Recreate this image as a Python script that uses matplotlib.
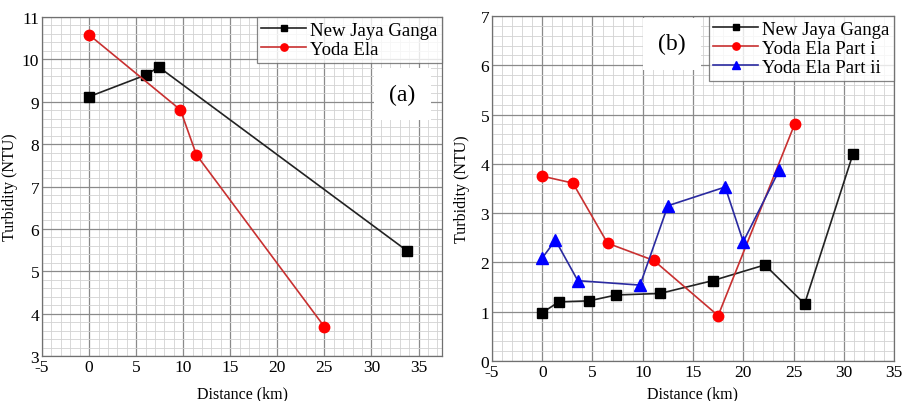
# Turbidity along the rivers: panels (a) and (b)

import numpy as np
import matplotlib.pyplot as plt
from matplotlib.ticker import MultipleLocator

plt.rcParams['font.family'] = ['Liberation Serif', 'DejaVu Serif']
plt.rcParams['axes.unicode_minus'] = False

# panel (a)
a_njg_x = [0, 6.0, 7.4, 33.8]
a_njg_y = [9.12, 9.63, 9.82, 5.48]
a_ye_x = [0, 9.7, 11.4, 25.0]
a_ye_y = [10.58, 8.81, 7.75, 3.69]

# panel (b)
b_njg_x = [0, 1.66, 4.64, 7.38, 11.7, 16.95, 22.15, 26.1, 30.9]
b_njg_y = [0.98, 1.20, 1.22, 1.34, 1.37, 1.63, 1.95, 1.16, 4.19]
b_ye1_x = [0, 3.05, 6.5, 11.1, 17.5, 25.1]
b_ye1_y = [3.75, 3.61, 2.39, 2.04, 0.92, 4.80]
b_ye2_x = [0, 1.32, 3.54, 9.73, 12.5, 18.2, 20.0, 23.6]
b_ye2_y = [2.09, 2.45, 1.63, 1.54, 3.15, 3.53, 2.42, 3.88]

fig = plt.figure(figsize=(9.06, 4.02), dpi=100)
ax1 = fig.add_axes([0.0464, 0.1119, 0.4415, 0.8433])
ax2 = fig.add_axes([0.5430, 0.0995, 0.4438, 0.8582])


def style_axes(ax, xlim, ylim, xlab_y, ylab_x):
    ax.set_xlim(*xlim)
    ax.set_ylim(*ylim)
    ax.xaxis.set_major_locator(MultipleLocator(5))
    ax.xaxis.set_minor_locator(MultipleLocator(1))
    ax.yaxis.set_major_locator(MultipleLocator(1))
    ax.yaxis.set_minor_locator(MultipleLocator(0.2))
    ax.grid(True, which='major', color='#8a8a8a', lw=0.9)
    ax.grid(True, which='minor', color='#d2d2d2', lw=0.6)
    ax.set_axisbelow(True)
    ax.tick_params(which='both', direction='in', length=0, labelsize=12.5, pad=2)
    for s in ax.spines.values():
        s.set_color('#707070')
        s.set_linewidth(0.9)
    ax.set_xlabel('Distance (km)', fontsize=11.5)
    ax.set_ylabel('Turbidity (NTU)', fontsize=11.5)
    ax.xaxis.set_label_coords(0.5, xlab_y)
    ax.yaxis.set_label_coords(ylab_x, 0.5)


def add_legend(ax):
    leg = ax.legend(loc='upper right', fontsize=13.5, frameon=True, fancybox=False,
                    borderaxespad=0, handlelength=2.4, handletextpad=0.2,
                    borderpad=0.25, labelspacing=0.1, markerscale=0.7)
    leg.get_frame().set_edgecolor('#666666')
    leg.get_frame().set_linewidth(0.9)


# left panel
style_axes(ax1, (-5, 37.5), (3, 11), -0.086, -0.06)
ax1.plot(a_njg_x, a_njg_y, color='#222222', lw=1.2, marker='s', ms=7,
         mfc='black', mec='black', label='New Jaya Ganga')
ax1.plot(a_ye_x, a_ye_y, color='#c83030', lw=1.2, marker='o', ms=7.5,
         mfc='red', mec='red', label='Yoda Ela')
add_legend(ax1)
ax1.text(0.90, 0.773, '(a)', transform=ax1.transAxes, fontsize=17,
         ha='center', va='center',
         bbox=dict(facecolor='white', edgecolor='none', pad=11))

# right panel
style_axes(ax2, (-5, 35), (0, 7), -0.07, -0.055)
ax2.plot(b_njg_x, b_njg_y, color='#222222', lw=1.2, marker='s', ms=7,
         mfc='black', mec='black', label='New Jaya Ganga')
ax2.plot(b_ye1_x, b_ye1_y, color='#c83030', lw=1.2, marker='o', ms=7.5,
         mfc='red', mec='red', label='Yoda Ela Part i')
ax2.plot(b_ye2_x, b_ye2_y, color='#2a2aa0', lw=1.2, marker='^', ms=8,
         mfc='blue', mec='blue', label='Yoda Ela Part ii')
add_legend(ax2)
ax2.text(0.448, 0.919, '(b)', transform=ax2.transAxes, fontsize=17,
         ha='center', va='center',
         bbox=dict(facecolor='white', edgecolor='none', pad=11))

fig.savefig('out.png', dpi=100)
